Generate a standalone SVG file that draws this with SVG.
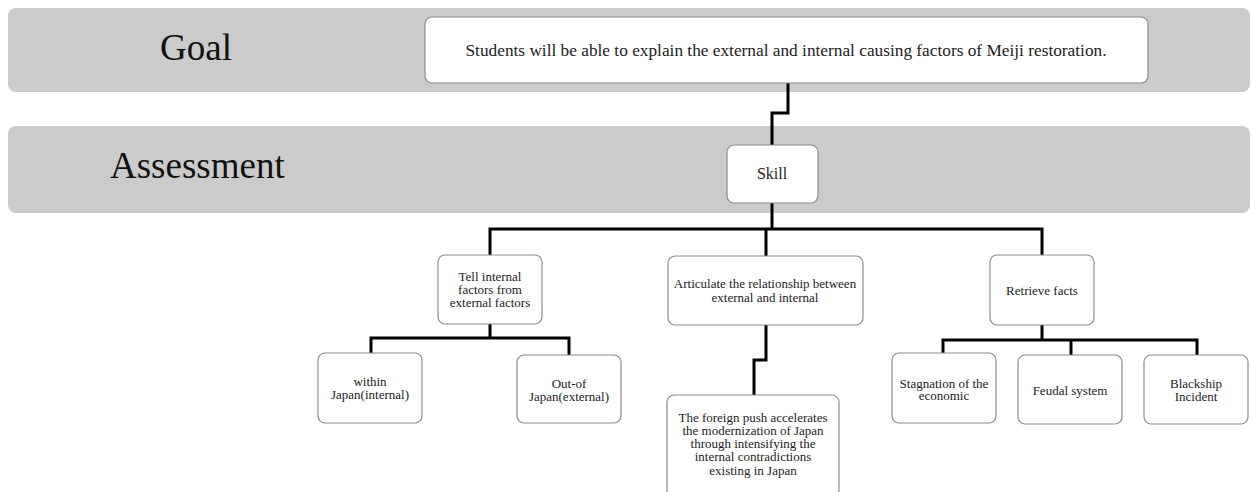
<svg xmlns="http://www.w3.org/2000/svg" width="1252" height="492" viewBox="0 0 1252 492">
<style>
.band{fill:#cbcbcb;}
.box{fill:#ffffff;stroke:#8c8c8c;stroke-width:1.2;}
.big{font-family:"Liberation Serif","DejaVu Serif",serif;font-size:37px;fill:#111;}
.t{font-family:"Liberation Serif","DejaVu Serif",serif;font-size:13px;fill:#222;text-anchor:middle;}
.g{font-size:16.5px;}
.s{font-size:16px;}
.conn{fill:none;stroke:#000;stroke-width:3;stroke-linejoin:miter;}
</style>
<rect x="0" y="0" width="1252" height="492" fill="#ffffff"/>
<g id="bands">
<rect class="band" x="8" y="8" width="1242" height="84" rx="8"/>
<rect class="band" x="8" y="126" width="1242" height="87" rx="8"/>
<text class="big" x="160" y="60">Goal</text>
<text class="big" x="110" y="178">Assessment</text>
</g>
<g id="connectors">
<path class="conn" d="M788,83 V113 H772 V145"/>
<path class="conn" d="M772,203 V229"/>
<path class="conn" d="M490,255 V229 H1042 V255"/>
<path class="conn" d="M766,229 V256"/>
<path class="conn" d="M490,324 V338"/>
<path class="conn" d="M371,353 V338 H569 V355"/>
<path class="conn" d="M766,325 V360 H754 V395"/>
<path class="conn" d="M1042,325 V340"/>
<path class="conn" d="M943,353 V340 H1197 V355"/>
<path class="conn" d="M1071,340 V355"/>
</g>
<g id="goal">
<rect class="box" x="425" y="17" width="723" height="66" rx="7"/>
<text class="t g" x="786" y="56" textLength="641" lengthAdjust="spacingAndGlyphs">Students will be able to explain the external and internal causing factors of Meiji restoration.</text>
</g>
<g id="skill">
<rect class="box" x="727" y="145" width="91" height="58" rx="7"/>
<text class="t s" x="772" y="179">Skill</text>
</g>
<g id="tell">
<rect class="box" x="438" y="255" width="104" height="69" rx="7"/>
<text class="t" x="490" y="281">Tell internal</text>
<text class="t" x="490" y="294">factors from</text>
<text class="t" x="490" y="307">external factors</text>
</g>
<g id="articulate">
<rect class="box" x="668" y="256" width="195" height="69" rx="7"/>
<text class="t" x="765" y="287.5">Articulate the relationship between</text>
<text class="t" x="765" y="301.5">external and internal</text>
</g>
<g id="retrieve">
<rect class="box" x="990" y="255" width="104" height="70" rx="7"/>
<text class="t" x="1042" y="294.5">Retrieve facts</text>
</g>
<g id="within">
<rect class="box" x="318" y="353" width="104" height="70" rx="7"/>
<text class="t" x="370" y="385.5">within</text>
<text class="t" x="370" y="398.5">Japan(internal)</text>
</g>
<g id="outof">
<rect class="box" x="517" y="355" width="104" height="68" rx="7"/>
<text class="t" x="569" y="387.5">Out-of</text>
<text class="t" x="569" y="400.5">Japan(external)</text>
</g>
<g id="foreign">
<rect class="box" x="667" y="395" width="172" height="102" rx="7"/>
<text class="t" x="753" y="421.5">The foreign push accelerates</text>
<text class="t" x="753" y="434.5">the modernization of Japan</text>
<text class="t" x="753" y="447.5">through intensifying the</text>
<text class="t" x="753" y="461">internal contradictions</text>
<text class="t" x="753" y="474.5">existing in Japan</text>
</g>
<g id="stagnation">
<rect class="box" x="892" y="353" width="104" height="70" rx="7"/>
<text class="t" x="944" y="387.5">Stagnation of the</text>
<text class="t" x="944" y="400">economic</text>
</g>
<g id="feudal">
<rect class="box" x="1018" y="355" width="104" height="69" rx="7"/>
<text class="t" x="1070" y="394.5">Feudal system</text>
</g>
<g id="blackship">
<rect class="box" x="1144" y="355" width="104" height="69" rx="7"/>
<text class="t" x="1196" y="387.5">Blackship</text>
<text class="t" x="1196" y="400.5">Incident</text>
</g>
</svg>
